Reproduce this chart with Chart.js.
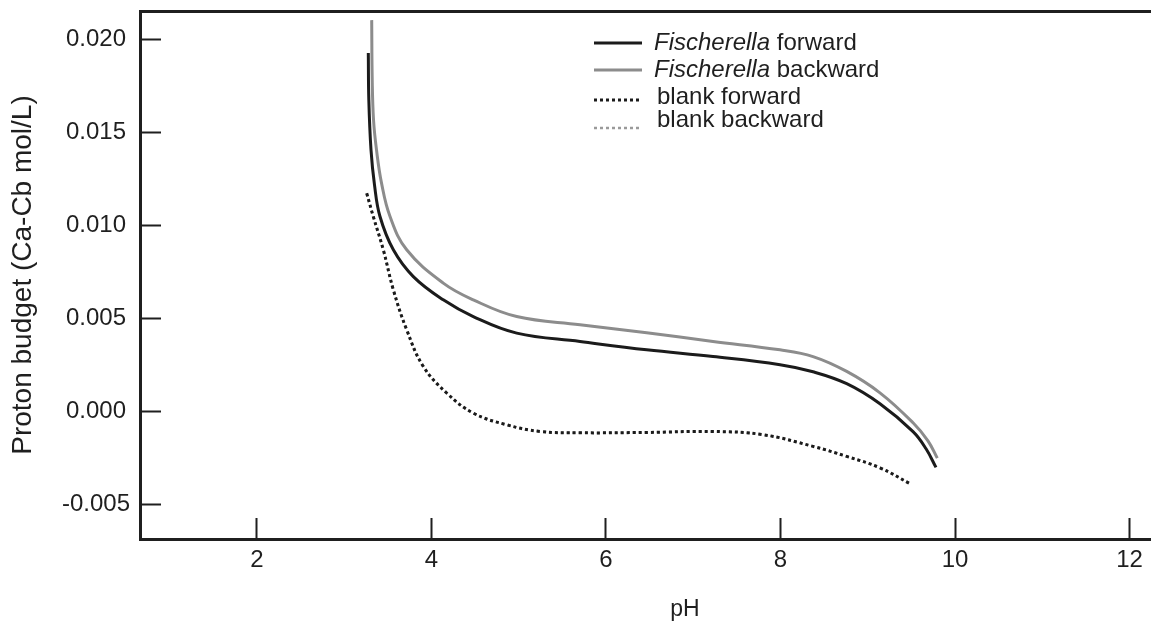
<!DOCTYPE html>
<html>
<head>
<meta charset="utf-8">
<script src="https://cdn.jsdelivr.net/npm/chart.js@4.4.1/dist/chart.umd.min.js"></script>
<style>
  html, body { margin: 0; padding: 0; background: #fff; overflow: hidden; }
  #wrap { width: 1230px; height: 625px; }
</style>
</head>
<body>
<div id="wrap"><canvas id="budgetChart"></canvas></div>
<script>
// values (pH, proton budget Ca-Cb in mol/L)
const fwdPH = [3.277, 3.283, 3.308, 3.348, 3.411, 3.564, 3.793, 4.136, 4.480, 4.978, 5.703, 6.467, 7.227, 7.995, 8.373, 8.759, 9.140, 9.519, 9.668, 9.782];
const fwdBudget = [0.01925, 0.01673, 0.01404, 0.01216, 0.01046, 0.00867, 0.00723, 0.00598, 0.00508, 0.00419, 0.00374, 0.00329, 0.00293, 0.00249, 0.00211, 0.00147, 0.00039, -0.00111, -0.00203, -0.00303];

const backPH = [3.316, 3.322, 3.337, 3.371, 3.428, 3.526, 3.717, 4.136, 4.480, 4.978, 5.703, 6.467, 7.227, 7.995, 8.373, 8.759, 9.140, 9.519, 9.690, 9.797];
const backBudget = [0.02102, 0.01780, 0.01565, 0.01404, 0.01227, 0.01046, 0.00867, 0.00688, 0.00598, 0.00508, 0.00464, 0.00421, 0.00374, 0.00329, 0.00293, 0.00213, 0.00098, -0.00063, -0.00160, -0.00253];

const blankPH = [3.259, 3.334, 3.449, 3.564, 3.717, 3.907, 4.175, 4.480, 4.863, 5.245, 5.703, 6.467, 7.227, 7.800, 8.373, 8.759, 9.140, 9.485];
const blankBudget = [0.01171, 0.01046, 0.00867, 0.00652, 0.00437, 0.00240, 0.00097, -0.00011, -0.00074, -0.00110, -0.00117, -0.00115, -0.00110, -0.00127, -0.00190, -0.00244, -0.00305, -0.00391];

// blank backward is not visible in the figure: it sits under the blank forward trace
const blankBackPH = blankPH;
const blankBackBudget = blankBudget;

const seriesLabels = ['Fischerella forward', 'Fischerella backward', 'blank forward', 'blank backward'];
const xTickValues = [2, 4, 6, 8, 10, 12];
const yTickValues = [-0.005, 0, 0.005, 0.010, 0.015, 0.020];

const FONT = "'Liberation Sans', Arial, Helvetica, sans-serif";
const INK = '#1f1f1f';

function toPoints(xs, ys) {
    return xs.map((x, i) => ({ x: x, y: ys[i] }));
}

// legend drawn by hand so the genus name can be italic
const legendPlugin = {
    id: 'figLegend',
    afterDraw(chart) {
        const ctx = chart.ctx;
        const lineRows = [43, 70, 100, 128];
        const textRows = [43, 70, 97, 120];
        ctx.save();
        chart.data.datasets.forEach((ds, i) => {
            ctx.beginPath();
            ctx.strokeStyle = ds.borderColor;
            ctx.lineWidth = ds.borderWidth;
            ctx.setLineDash(ds.borderDash || []);
            ctx.moveTo(594, lineRows[i]);
            ctx.lineTo(642, lineRows[i]);
            ctx.stroke();
            ctx.setLineDash([]);

            ctx.fillStyle = INK;
            ctx.textBaseline = 'middle';
            let x = ds.label.startsWith('Fischerella') ? 654 : 657;
            const m = ds.label.match(/^(Fischerella)(.*)$/);
            if (m) {
                ctx.font = 'italic 24px ' + FONT;
                ctx.fillText(m[1], x, textRows[i]);
                x += ctx.measureText(m[1]).width;
                ctx.font = '24px ' + FONT;
                ctx.fillText(m[2], x, textRows[i]);
            } else {
                ctx.font = '24px ' + FONT;
                ctx.fillText(ds.label, x, textRows[i]);
            }
        });
        ctx.restore();
    }
};

Chart.defaults.font.family = FONT;
Chart.defaults.color = INK;

const xMin = 0.661, xMax = 13.151;
const yMin = -0.00688, yMax = 0.02151;

new Chart(document.getElementById('budgetChart'), {
    type: 'line',
    data: {
        datasets: [
            { label: seriesLabels[0], data: toPoints(fwdPH, fwdBudget), borderColor: '#1b1b1b', borderWidth: 3 },
            { label: seriesLabels[1], data: toPoints(backPH, backBudget), borderColor: '#8c8c8c', borderWidth: 3 },
            { label: seriesLabels[2], data: toPoints(blankPH, blankBudget), borderColor: '#1b1b1b', borderWidth: 3, borderDash: [3, 3] },
            { label: seriesLabels[3], data: toPoints(blankBackPH, blankBackBudget), borderColor: '#9a9a9a', borderWidth: 2.5, borderDash: [3, 3] }
        ]
    },
    options: {
        responsive: true,
        maintainAspectRatio: false,
        animation: false,
        parsing: false,
        layout: { autoPadding: false, padding: { top: 11, left: 0, right: 0, bottom: 0 } },
        elements: {
            point: { radius: 0 },
            line: { tension: 0.4, fill: false, borderCapStyle: 'butt' }
        },
        plugins: {
            legend: { display: false },
            tooltip: { enabled: false }
        },
        scales: {
            x: {
                type: 'linear',
                position: 'bottom',
                min: xMin,
                max: xMax,
                afterBuildTicks: s => { s.ticks = xTickValues.map(v => ({ value: v })); },
                afterFit: s => { s.height = 86; s.paddingLeft = 0; s.paddingRight = 0; },
                border: { display: true, color: INK, width: 3 },
                grid: { display: true, drawOnChartArea: false, drawTicks: true, tickLength: -21, tickColor: INK, tickWidth: 2 },
                ticks: { padding: 28, maxRotation: 0, autoSkip: false, color: INK, font: { size: 24 }, callback: v => String(v) },
                title: { display: true, text: 'pH', color: INK, font: { size: 23 }, padding: { top: 0, bottom: 2 } }
            },
            xTop: {
                type: 'linear',
                position: 'top',
                min: xMin,
                max: xMax,
                afterFit: s => { s.height = 0; },
                border: { display: true, color: INK, width: 3 },
                grid: { display: false, drawTicks: false },
                ticks: { display: false }
            },
            y: {
                type: 'linear',
                position: 'left',
                min: yMin,
                max: yMax,
                afterBuildTicks: s => { s.ticks = yTickValues.map(v => ({ value: v })); },
                afterFit: s => { s.width = 140; s.paddingTop = 0; s.paddingBottom = 0; },
                border: { display: true, color: INK, width: 3 },
                grid: { display: true, drawOnChartArea: false, drawTicks: true, tickLength: -21, tickColor: INK, tickWidth: 2 },
                ticks: { padding: 31, crossAlign: 'center', color: INK, font: { size: 24 }, callback: v => Number(v).toFixed(3) },
                title: { display: true, text: 'Proton budget (Ca-Cb mol/L)', color: INK, font: { size: 28 }, padding: { top: 6, bottom: 0 } }
            }
        }
    },
    plugins: [legendPlugin]
});
</script>
</body>
</html>
